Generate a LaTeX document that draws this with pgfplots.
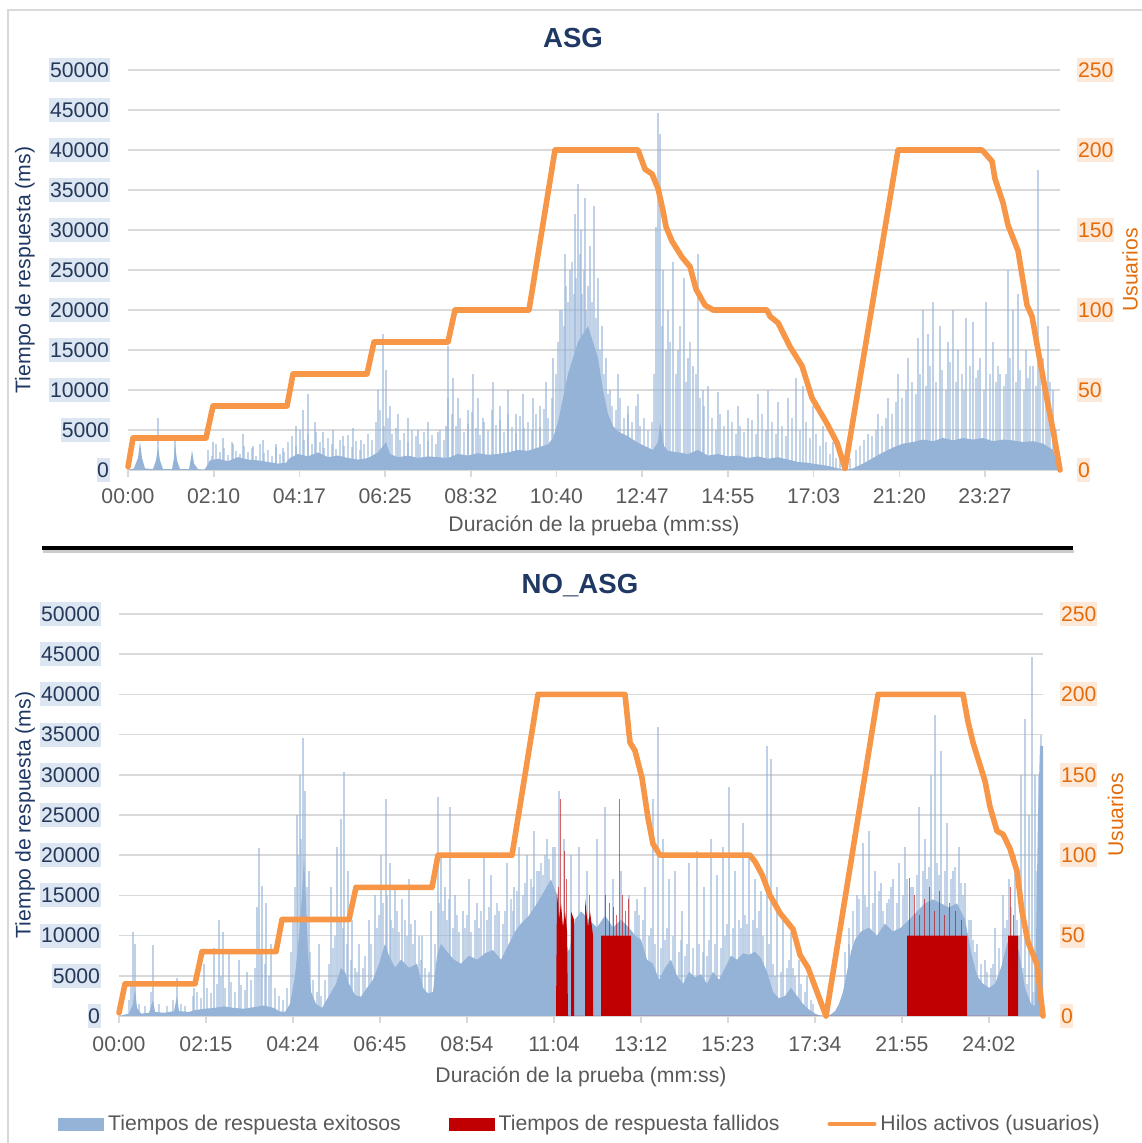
\documentclass[border=0pt]{standalone}
\usepackage{fontspec}
\setmainfont{Liberation Sans}
\usepackage{pgfplots}
\pgfplotsset{compat=1.18}

\definecolor{blueA}{RGB}{149,179,215}
\definecolor{redF}{RGB}{192,0,0}
\definecolor{orangeL}{RGB}{247,150,70}
\definecolor{orangeT}{RGB}{228,108,10}
\definecolor{orangeBg}{RGB}{253,233,217}
\definecolor{navyT}{RGB}{38,56,88}
\definecolor{navyH}{RGB}{31,56,100}
\definecolor{blueBg}{RGB}{220,230,242}
\definecolor{gridG}{RGB}{217,217,217}
\definecolor{textG}{RGB}{89,89,89}

\newcommand{\tl}{\fontsize{10.6}{12.7}\selectfont}
\newcommand{\ttl}{\fontsize{13.8}{16}\selectfont\bfseries}

\pgfplotsset{
  leftax/.style={
    scale only axis, enlargelimits=false, scaled y ticks=false,
    ymin=0, ymax=50000, ytick={0,5000,...,50000},
    yticklabels={0,5000,10000,15000,20000,25000,30000,35000,40000,45000,50000},
    axis y line*=left, axis x line*=bottom,
    y axis line style={draw=none},
    x axis line style={draw=gridG, line width=0.8pt},
    ymajorgrids, grid style={draw=gridG, line width=0.8pt},
    major tick length=3.5pt, tick align=outside,
    ytick style={draw=none}, xtick style={draw=gridG, line width=0.8pt},
    yticklabel style={font=\tl, text=navyT, fill=blueBg, inner xsep=0.3pt, inner ysep=2.2pt, xshift=-5.5pt},
    xticklabel style={font=\tl, text=textG, yshift=-2.2pt},
    xlabel style={font=\tl, text=textG, anchor=center},
    ylabel style={font=\tl, text=navyH, anchor=center},
    title style={font=\ttl, text=navyH, anchor=center},
  },
  rightax/.style={
    scale only axis, enlargelimits=false, clip=false,
    ymin=0, ymax=250, ytick={0,50,...,250},
    yticklabels={0,50,100,150,200,250},
    axis y line*=right, axis x line=none,
    y axis line style={draw=none}, ytick style={draw=none},
    major tick length=3.5pt, tick align=outside,
    yticklabel style={font=\tl, text=orangeT, fill=orangeBg, inner xsep=0.3pt, inner ysep=2.2pt, xshift=5pt},
    ylabel style={font=\tl, text=orangeT, anchor=center},
  },
  users/.style={orangeL, line width=2.8pt, line join=round, line cap=round},
  okarea/.style={fill=blueA, draw=none},
  okspike/.style={ycomb, draw=blueA, opacity=0.6, line width=0.6pt, mark=none},
  okhair/.style={ycomb, draw=blueA, opacity=0.55, line width=1.3pt, mark=none},
  failarea/.style={fill=redF, draw=none},
  failspike/.style={ycomb, draw=redF, opacity=0.6, line width=0.5pt, mark=none},
}

\begin{document}
\begin{tikzpicture}
\path[use as bounding box] (0,0) rectangle (570.5pt,571.5pt);
\draw[gridG, line width=0.8pt] (4pt,-10pt) rectangle (600pt,566.5pt);

% ---------------- ASG ----------------
\begin{axis}[leftax, at={(64pt,336.5pt)}, anchor=south west,
  width=466pt, height=200pt, xmin=0, xmax=932,
  xtick={0,85.7,171.4,257.1,342.8,428.5,514.2,599.9,685.6,771.3,857},
  xticklabels={00:00,02:10,04:17,06:25,08:32,10:40,12:47,14:55,17:03,21:20,23:27},
  xlabel={Duración de la prueba (mm:ss)}, xlabel style={at={(axis description cs:0.5,-0.14)}},
  ylabel={Tiempo de respuesta (ms)}, ylabel style={at={(axis description cs:-0.1105,0.5)}},
  title={ASG}, title style={at={(axis description cs:0.4775,1.05)}}]
\addplot[okarea] coordinates {
(0,0)(6,200)(10,1500)(12,3500)(14,1500)(17,200)(25,100)(28,1200)(30,2800)(32,1200)(35,100)
(44,100)(46,1500)(47,3300)(49,1200)(52,100)(61,100)(63,1500)(64,2500)(66,800)(70,100)(76,0)
(78,300)(82,1200)(90,1400)(100,1100)(110,1600)(120,1300)(130,1200)(140,1000)(150,800)(158,900)
(162,1500)(170,2000)(180,1700)(190,2200)(200,1600)(210,1800)(220,1500)(230,1300)(240,1500)
(250,2200)(258,3500)(262,2000)(270,1600)(280,1800)(290,1500)(300,1700)(310,1600)(320,1500)
(330,2000)(340,1800)(350,2100)(360,1900)(370,2000)(380,2200)(390,2500)(400,2400)(410,2800)
(420,3200)(425,4000)(430,6000)(435,9000)(440,12000)(445,14000)(450,16000)(455,17000)(460,18000)
(465,16000)(470,14000)(475,10000)(480,7000)(485,5500)(490,4800)(500,4200)(510,3400)(520,2800)
(525,2500)(530,3500)(532,6000)(536,3000)(540,2400)(550,2200)(560,2000)(570,2500)(580,1800)
(590,2000)(600,1700)(610,1800)(620,1500)(630,1700)(640,1400)(650,1600)(660,1300)(670,1000)
(680,900)(690,700)(700,500)(710,200)(717,0)(725,200)(735,800)(745,1500)(755,2200)(765,2800)
(775,3300)(785,3500)(795,3800)(805,3600)(815,4000)(825,3700)(835,4000)(845,3800)(855,4000)
(865,3600)(875,3800)(885,3700)(895,3500)(905,3600)(915,3300)(925,2500)(930,800)(932,0)
} \closedcycle;
\addplot[okhair] coordinates {
(80,2500)(84,1800)(88,3200)(92,2200)(96,2800)(100,1900)(104,3500)(108,2400)(112,2000)(116,3000)
(120,2300)(124,2700)(128,1800)(132,3300)(136,2100)(140,2500)(144,1700)(148,2900)(152,2000)(156,2300)
(160,3500)(164,4200)(168,3000)(172,5000)(176,3800)(180,4500)(184,3200)(188,4800)(192,3500)(196,2800)
(200,4000)(204,3300)(208,2600)(212,3800)(216,3000)(220,4400)(224,2900)(228,3600)(232,2500)(236,3200)
(240,4500)(244,3800)(248,6000)(252,7500)(256,5500)(260,6500)(264,4500)(268,5200)(272,3800)(276,4600)
(280,3500)(284,5000)(288,4200)(292,3300)(296,4800)(300,3600)(304,4400)(308,3200)(312,5000)(316,3800)
(320,9000)(324,7000)(328,5500)(332,6500)(336,4800)(340,5800)(344,7200)(348,5200)(352,4400)(356,6000)
(360,5000)(364,7500)(368,5600)(372,6200)(376,4700)(380,7000)(384,5400)(388,4600)(392,6800)(396,5200)
(400,6000)(404,5000)(408,7000)(412,5400)(416,7600)(420,6500)(424,9000)(428,12000)
(430,16000)(434,20000)(436,18000)(438,23000)(440,21000)(444,26000)(446,22000)(448,24000)(452,27000)
(454,22000)(456,25000)(458,20000)(460,23000)(464,21000)(468,19000)(472,15000)(476,12000)(480,9500)
(484,8000)(488,7500)(492,9000)(496,6500)(500,7000)(504,6000)(508,8000)(512,5500)(516,6500)(520,5000)
(524,6000)(526,12000)(534,18000)(538,15000)(542,16000)(548,12000)(552,18000)(558,11000)(562,16000)
(568,12000)(572,9000)(576,8000)(584,6500)(588,5000)(592,7000)(596,5500)(604,6000)(608,4500)(612,5500)
(616,4800)(624,6200)(628,4500)(634,7000)(638,5000)(644,6000)(648,4500)(654,5500)(658,4200)(664,6500)
(672,5000)(678,6000)(682,4000)(688,4500)(692,3000)(698,3500)(702,2000)(708,1500)(712,1200)
(722,1500)(728,2500)(732,3000)(736,3800)(744,4200)(748,5000)(754,5500)(758,6500)(764,7000)(768,8500)
(774,9000)(778,10000)(784,11000)(788,9500)(792,12000)(798,10500)(802,13000)(808,11000)(814,12500)
(818,10000)(822,13500)(828,11000)(834,12000)(836,10000)(842,13000)(848,11500)(850,12500)(856,10000)
(862,12000)(868,11000)(870,13000)(876,10500)(878,12000)(882,14000)(888,11000)(892,12500)(896,10000)
(900,11500)(902,13000)(908,10500)(912,12000)(918,9000)(922,11000)(928,5000)
};
\addplot[okspike] coordinates {
(30,6500)(47,4000)(85,3500)(95,4000)(105,3200)(115,4500)(125,3000)(135,3800)(148,3300)(155,2800)
(168,5500)(175,7500)(180,9500)(187,6000)(195,4800)(205,5000)(215,4200)(225,5200)(233,3800)
(250,10000)(255,17000)(258,12500)(262,8000)(270,7000)(280,6500)(290,5000)(300,6000)(310,4800)(318,5500)
(320,15500)(325,11500)(330,9000)(340,7500)(345,12000)(350,9000)(355,6500)(365,11000)(372,8000)
(380,10000)(388,7000)(395,9500)(405,9000)(412,8000)(418,11000)(425,14000)
(432,20000)(437,27000)(442,25000)(447,32000)(450,35800)(453,30000)(457,34000)(462,28000)
(466,33000)(470,24000)(474,18000)(478,14000)(482,10000)(490,12000)(500,8000)(510,9500)
(528,30400)(530,44600)(532,42000)(535,25000)(540,20000)(545,26000)(550,15000)(556,24000)
(560,14000)(565,13000)(570,27000)(575,10000)(580,10500)(590,9700)(600,7500)(610,8000)
(620,6500)(630,9500)(640,10000)(650,8500)(660,9000)(668,11500)(675,10500)(685,8000)
(695,5500)(705,3500)(740,4500)(750,7000)(760,9000)(770,12000)(780,14000)(790,16500)
(795,20000)(800,17000)(805,21000)(812,18000)(820,16000)(825,20000)(830,15000)(838,19000)
(845,18500)(852,14000)(858,21000)(865,16000)(872,12000)(880,25000)(885,20000)(890,22000)
(898,15000)(905,13000)(910,37500)(915,14000)(920,18000)(925,10000)
};
\end{axis}
\begin{axis}[rightax, at={(64pt,336.5pt)}, anchor=south west,
  width=466pt, height=200pt, xmin=0, xmax=932,
  ylabel={Usuarios}, ylabel style={at={(axis description cs:1.0751,0.5)}}]
\addplot[users] coordinates {
(0,2)(5,20)(78,20)(85,40)(159,40)(165,60)(239,60)(246,80)(320,80)(327,100)(401,100)(427,200)
(510,200)(517,188)(524,185)(530,176)(535,162)(538,152)(544,143)(554,133)(562,127)(568,113)
(577,103)(585,100)(639,100)(642,96)(650,92)(662,77)(674,65)(684,45)(699,29)(709,17)(717,1)
(770,200)(854,200)(864,193)(867,182)(875,167)(880,153)(890,137)(899,103)(904,96)(910,75)
(919,44)(925,25)(932,0)
};
\end{axis}

% separator
\draw[black!20, line width=1.6pt] (21.5pt,295.6pt) -- (537pt,295.6pt);
\draw[black, line width=2pt] (21pt,297.5pt) -- (536.5pt,297.5pt);

% ---------------- NO_ASG ----------------
\begin{axis}[leftax, at={(59.5pt,63.5pt)}, anchor=south west,
  width=462pt, height=201pt, xmin=0, xmax=924,
  xtick={0,87,174,261,348,435,522,609,696,783,870},
  xticklabels={00:00,02:15,04:24,06:45,08:54,11:04,13:12,15:23,17:34,21:55,24:02},
  xticklabel style={yshift=-1pt},
  xlabel={Duración de la prueba (mm:ss)}, xlabel style={at={(axis description cs:0.5,-0.1517)}},
  ylabel={Tiempo de respuesta (ms)}, ylabel style={at={(axis description cs:-0.1017,0.5)}},
  title={NO\_ASG}, title style={at={(axis description cs:0.4989,1.04)}}]
\addplot[okarea] coordinates {
(0,0)(10,300)(14,1500)(16,3500)(18,1000)(22,300)(30,400)(34,2000)(36,500)(45,400)(55,600)
(58,2500)(60,600)(70,500)(75,700)(85,900)(95,1000)(105,1200)(115,1000)(125,900)(135,1100)
(145,1300)(155,1000)(160,600)(166,500)(171,1500)(176,5000)(180,10000)(183,15000)(185,20000)
(187,14000)(189,8000)(192,3000)(197,1500)(203,1000)(210,2500)(217,4000)(222,6000)(226,5500)
(230,4000)(236,2600)(242,2400)(248,3500)(254,4500)(260,6500)(266,9000)(270,7500)(276,6000)
(282,7000)(290,6000)(298,6500)(304,3500)(309,2800)(314,3000)(318,7500)(322,9000)(328,8000)
(335,7000)(342,6500)(350,7500)(358,7000)(366,7800)(374,8200)(382,7000)(390,9000)(396,10500)
(402,11500)(410,12500)(418,14000)(425,15500)(432,17000)(438,15000)(444,10000)(450,8000)
(456,12000)(462,13000)(470,12000)(478,11000)(486,12500)(494,11000)(502,12000)(510,11000)
(516,10000)(522,9500)(528,7000)(534,6500)(540,4500)(546,6000)(552,7000)(558,5000)(564,4000)
(570,5500)(576,4800)(582,5200)(588,4000)(594,5500)(600,4500)(606,6000)(612,7500)(618,7000)
(624,7800)(630,7600)(636,8000)(642,7200)(648,5500)(654,3000)(660,2200)(666,2500)(672,3500)
(678,2500)(684,1500)(690,800)(696,300)(702,0)(708,0)(712,200)(716,600)(720,1500)(724,3000)
(728,5500)(732,8000)(736,9500)(742,10500)(750,11000)(758,10000)(766,11500)(774,10500)
(782,11000)(790,12000)(798,13000)(806,14000)(814,14500)(822,14000)(830,13500)(838,14000)
(846,12000)(852,8000)(858,5000)(864,4000)(870,3500)(876,4000)(882,6000)(888,9000)(894,10000)
(900,8000)(906,3500)(912,1500)(916,1200)(919,25000)(921,33600)(924,33600)
} \closedcycle;
\addplot[okhair] coordinates {
(10,2000)(12,4000)(20,1500)(26,1200)(32,3000)(40,1500)(48,1200)(54,2000)(62,1500)(66,1200)
(74,2500)(78,3000)(82,2200)(88,3500)(92,2800)(98,4000)(102,5000)(106,3500)(112,4200)(116,3000)
(122,3800)(126,3200)(132,4500)(136,6000)(142,8000)(146,6500)(150,5000)(156,3500)(160,2500)(164,2000)
(168,3500)(172,8000)(174,12000)(176,16000)(179,20000)(182,22000)(188,16000)(191,8000)(194,4500)
(198,3000)(202,2500)(206,4500)(210,6500)(214,8500)(216,10000)(220,12000)(224,11000)(228,9000)
(232,7000)(236,6000)(238,5500)(244,6000)(246,7500)(252,9000)(258,11000)(260,12500)(264,14000)
(268,15000)(272,12000)(274,11000)(278,13000)(280,10500)(286,12000)(288,10000)(292,11500)(294,9000)
(300,10000)(302,7000)(306,6000)(310,5500)(316,9000)(320,14000)(324,13000)(328,12000)(330,14500)
(334,11000)(338,12500)(340,10500)(346,11000)(348,12500)(352,10500)(356,12000)(360,11000)(362,13000)
(368,12000)(370,13500)(376,12500)(378,14000)(384,11500)(386,13000)(392,14500)(394,13000)(398,15500)
(404,15000)(406,16500)(412,17000)(414,16000)(418,18000)(422,19000)(424,17500)(426,20000)(430,19500)
(436,21000)(516,13000)(520,12500)(524,12000)(530,10000)(532,11000)(536,9000)(542,8500)(546,9500)
(548,11000)(554,10000)(560,8000)(562,9500)(566,7500)(568,9000)(574,8500)(580,9000)(584,8000)
(588,7500)(590,9500)(596,9000)(602,8500)(606,10000)(608,11500)(614,11000)(620,12000)(622,11000)
(626,12500)(628,11500)(634,12000)(638,11000)(640,13000)(644,10000)(650,9000)(654,6500)(656,5000)
(662,5500)(668,6000)(670,7000)(674,6000)(676,5000)(682,4000)(686,3000)(692,2000)(694,1500)
(726,8000)(730,11000)(734,13000)(740,14500)(746,15000)(748,13500)(754,14000)(760,15500)(764,13000)
(770,14500)(772,16000)(778,14000)(784,15000)(788,17000)(792,16000)(798,17500)(804,18000)(808,17000)
(810,18500)(818,19000)(820,17500)(826,18000)(832,17000)(836,18500)(842,16500)(844,15000)(850,12000)
(854,9500)(856,8000)(862,6500)(868,5500)(872,6000)(874,6500)(880,8500)(886,11000)(888,12000)
(892,13500)(898,12000)(900,10000)(904,6000)(908,4000)(914,3000)(918,18000)(920,30000)(922,35000)
};
\addplot[okspike] coordinates {
(14,10500)(16,9000)(34,8800)(58,4700)(75,3500)(85,6500)(95,8500)(100,12000)(104,10500)(110,8000)
(120,7000)(128,5500)(138,13500)(140,20900)(143,16200)(147,14000)(152,9000)(178,25000)(181,30000)
(184,34600)(186,28000)(190,18000)(200,9000)(212,16000)(218,21000)(222,24500)(225,30400)(229,18000)
(233,12000)(240,9000)(250,12000)(256,15000)(262,20000)(267,27000)(271,19000)(276,16000)(283,14500)
(290,17000)(296,12000)(303,10000)(312,13000)(319,27300)(322,20000)(326,16000)(331,26000)(336,15000)
(344,13000)(350,17000)(358,14000)(365,20000)(372,17500)(380,13000)(388,19000)(395,16000)(400,21000)
(408,20000)(415,23000)(420,18000)(428,22000)(434,21000)(440,28000)(445,22000)(452,20000)(460,21000)
(468,18000)(478,22000)(486,26000)(494,17000)(502,18000)(510,15000)(518,14500)(526,16000)(534,27000)
(539,36000)(544,22000)(550,17000)(556,18000)(563,13000)(570,19000)(578,20500)(585,16000)(592,22000)
(598,17500)(604,21000)(610,28500)(616,18000)(624,24000)(630,20000)(636,17000)(642,15500)(648,33600)
(652,32000)(658,16000)(664,12000)(672,10500)(680,7000)(688,5000)(730,9000)(738,15000)(744,21500)
(750,23000)(756,18000)(762,16500)(768,14000)(774,17000)(780,19000)(786,21000)(794,16000)(800,26000)
(806,22000)(812,30000)(816,37400)(822,33000)(828,24000)(834,18000)(840,21000)(846,16500)(852,12000)
(858,9000)(866,7000)(876,11000)(884,15000)(890,17000)(896,20000)(902,30000)(906,36900)(910,25000)
(913,44600)(916,30000)
};
\addplot[failarea] coordinates {
(437,0)(438,15500)(440,12000)(442,14000)(444,11000)(446,13000)(448,10500)(449,0)
(452,0)(452,13000)(455,12000)(455,0)(466,0)(466,14600)(469,11000)(471,13000)(474,10000)(474,0)
(482,0)(482,10000)(512,10000)(512,0)(788,0)(788,10000)(848,10000)(848,0)
(889,0)(889,10000)(899,10000)(899,0)
} \closedcycle;
\addplot[failspike] coordinates {
(439,16000)(441,27000)(445,20500)(447,17000)(470,15000)(486,15000)(490,14000)(494,13500)
(497,12500)(500,27000)(503,15000)(506,13000)(509,14500)(790,17200)(795,15000)(800,12500)
(805,14500)(810,16000)(815,13000)(820,15500)(825,12500)(830,14000)(836,13000)(842,12000)
(891,16000)(894,12500)
};
\end{axis}
\begin{axis}[rightax, at={(59.5pt,63.5pt)}, anchor=south west,
  width=462pt, height=201pt, xmin=0, xmax=924,
  ylabel={Usuarios}, ylabel style={at={(axis description cs:1.0786,0.5)}},
  legend columns=3,
  legend style={at={(axis description cs:0.5,-0.2687)}, anchor=center, draw=none, fill=none,
    font=\tl, text=textG, /tikz/every even column/.append style={column sep=22pt}},
  legend cell align=left]
\addlegendimage{legend image code/.code={\fill[blueA] (0pt,-3pt) rectangle (22.5pt,3pt);}}
\addlegendentry{Tiempos de respuesta exitosos}
\addlegendimage{legend image code/.code={\fill[redF] (0pt,-3pt) rectangle (22.5pt,3pt);}}
\addlegendentry{Tiempos de respuesta fallidos}
\addplot[users, legend image code/.code={\draw[orangeL, line width=2pt] (0pt,0pt) -- (22.5pt,0pt);}] coordinates {
(0,2)(6,20)(76,20)(83,40)(157,40)(163,60)(230,60)(237,80)(313,80)(319,100)(393,100)(419,200)
(506,200)(511,170)(516,165)(523,148)(529,123)(534,107)(541,100)(631,100)(636,96)(643,88)
(651,75)(661,64)(674,54)(681,38)(689,30)(707,0)(759,200)(844,200)(849,183)(854,170)(866,146)
(871,130)(878,115)(884,113)(891,104)(898,90)(903,65)(909,46)(918,32)(924,0)
};
\addlegendentry{Hilos activos (usuarios)}
\end{axis}
\end{tikzpicture}
\end{document}
